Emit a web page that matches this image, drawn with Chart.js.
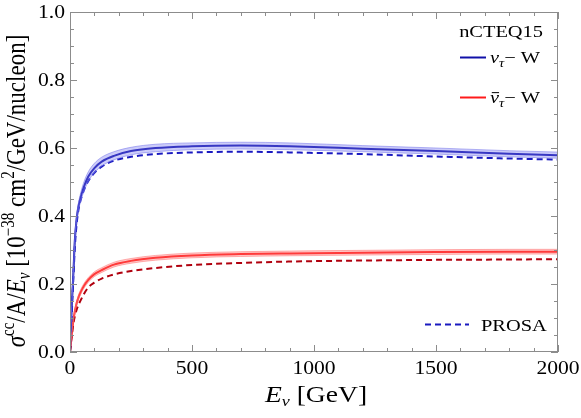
<!DOCTYPE html>
<html>
<head>
<meta charset="utf-8">
<script src="https://cdn.jsdelivr.net/npm/chart.js@4/dist/chart.umd.min.js"></script>
<style>
  html, body { margin: 0; padding: 0; background: #fff; }
  #wrap { width: 581px; height: 418px; }
</style>
</head>
<body>
<div id="wrap"><canvas id="xsecChart" width="581" height="418"></canvas></div>
<script>
// neutrino energy grid [GeV]
const energies = [0, 7, 14, 20, 27, 34, 41, 55, 75, 100, 130, 180, 250, 350, 500, 700, 900, 1200, 1500, 1800, 2000];

// nCTEQ15, nu_tau - W (central + band)
const nuCentral = [0, 0.13, 0.235, 0.33, 0.39, 0.425, 0.448, 0.482, 0.516, 0.541, 0.56, 0.577, 0.591, 0.600, 0.605, 0.607, 0.605, 0.598, 0.591, 0.583, 0.579];
const nuHigh    = [0, 0.135, 0.243, 0.34, 0.40, 0.436, 0.46, 0.496, 0.53, 0.555, 0.573, 0.589, 0.602, 0.611, 0.615, 0.617, 0.615, 0.607, 0.600, 0.592, 0.588];
const nuLow     = [0, 0.125, 0.227, 0.32, 0.38, 0.414, 0.436, 0.468, 0.502, 0.527, 0.547, 0.565, 0.580, 0.589, 0.595, 0.597, 0.595, 0.589, 0.582, 0.574, 0.570];

// nCTEQ15, anti-nu_tau - W (central + band)
const nubarCentral = [0, 0.05, 0.094, 0.12, 0.143, 0.159, 0.172, 0.192, 0.212, 0.229, 0.241, 0.257, 0.268, 0.277, 0.284, 0.288, 0.290, 0.292, 0.294, 0.295, 0.295];
const nubarHigh    = [0, 0.053, 0.099, 0.126, 0.149, 0.166, 0.179, 0.199, 0.219, 0.236, 0.248, 0.264, 0.275, 0.284, 0.291, 0.295, 0.297, 0.299, 0.301, 0.302, 0.302];
const nubarLow     = [0, 0.047, 0.089, 0.114, 0.137, 0.152, 0.165, 0.185, 0.205, 0.222, 0.234, 0.250, 0.261, 0.270, 0.277, 0.281, 0.283, 0.285, 0.287, 0.288, 0.288];

// PROSA
const nuProsa    = [0, 0.11, 0.22, 0.31, 0.375, 0.415, 0.44, 0.472, 0.503, 0.527, 0.545, 0.563, 0.574, 0.582, 0.587, 0.589, 0.587, 0.582, 0.575, 0.569, 0.566];
const nubarProsa = [0, 0.045, 0.085, 0.105, 0.124, 0.137, 0.148, 0.168, 0.19, 0.204, 0.216, 0.228, 0.238, 0.247, 0.256, 0.262, 0.266, 0.269, 0.271, 0.272, 0.273];

const xMajor = [0, 500, 1000, 1500, 2000];
const yMajor = [0.0, 0.2, 0.4, 0.6, 0.8, 1.0];

const SERIF = '"Liberation Serif", "DejaVu Serif", serif';
const FRAME = '#8c8c8c';
const STRETCH = 1.2;   // the text in the picture is a bit wider than tall

function pts(ys) {
    return energies.map((e, i) => ({ x: e, y: ys[i] }));
}

// draw a row of text pieces with their own size/style/offset, stretched sideways
function drawRuns(ctx, runs, x, y, align, sx) {
    sx = sx || STRETCH;
    let total = 0;
    runs.forEach(r => {
        ctx.font = (r.italic ? 'italic ' : '') + r.size + 'px ' + SERIF;
        r.w = ctx.measureText(r.t).width;
        total += r.w;
    });
    ctx.save();
    ctx.translate(x, y);
    ctx.scale(sx, 1);
    let cx = align === 'center' ? -total / 2 : (align === 'right' ? -total : 0);
    ctx.textAlign = 'left';
    runs.forEach(r => {
        ctx.font = (r.italic ? 'italic ' : '') + r.size + 'px ' + SERIF;
        ctx.fillText(r.t, cx, r.dy || 0);
        if (r.bar) {
            ctx.fillRect(cx + 1.5, -r.size * 0.64, r.w - 1.5, 1);
        }
        cx += r.w;
    });
    ctx.restore();
}

const framePlugin = {
    id: 'frameTicks',
    afterDatasetsDraw(chart) {
        const ctx = chart.ctx;
        const a = chart.chartArea;
        const xs = chart.scales.x, ys = chart.scales.y;
        ctx.save();
        ctx.strokeStyle = FRAME;
        ctx.lineWidth = 1;
        ctx.strokeRect(a.left + 0.5, a.top + 0.5, a.right - a.left - 1, a.bottom - a.top - 1);
        ctx.beginPath();
        xs.ticks.forEach(t => {
            const p = Math.round(xs.getPixelForValue(t.value)) + 0.5;
            const len = xMajor.includes(t.value) ? 7 : 4;
            ctx.moveTo(p, a.bottom); ctx.lineTo(p, a.bottom - len);
            ctx.moveTo(p, a.top); ctx.lineTo(p, a.top + len);
        });
        ys.ticks.forEach(t => {
            const p = Math.round(ys.getPixelForValue(t.value)) + 0.5;
            const major = yMajor.some(v => Math.abs(v - t.value) < 1e-6);
            const len = major ? 7 : 4;
            ctx.moveTo(a.left, p); ctx.lineTo(a.left + len, p);
            ctx.moveTo(a.right, p); ctx.lineTo(a.right - len, p);
        });
        ctx.stroke();
        ctx.restore();
    },
    afterDraw(chart) {
        const ctx = chart.ctx;
        const a = chart.chartArea;
        const xs = chart.scales.x, ys = chart.scales.y;
        ctx.save();
        ctx.fillStyle = '#000';
        ctx.textBaseline = 'alphabetic';

        // tick labels
        xMajor.forEach(v => {
            drawRuns(ctx, [{ t: String(v), size: 18 }], xs.getPixelForValue(v), a.bottom + 22, 'center');
        });
        yMajor.forEach(v => {
            drawRuns(ctx, [{ t: v.toFixed(1), size: 18 }], a.left - 5, ys.getPixelForValue(v) + 6, 'right');
        });

        // x title
        drawRuns(ctx, [
            { t: 'E', size: 23, italic: true },
            { t: 'ν', size: 15, italic: true, dy: 4 },
            { t: ' [GeV]', size: 23 }
        ], (a.left + a.right) / 2 + 2, 402, 'center');

        // y title
        ctx.save();
        ctx.translate(25, 191);
        ctx.rotate(-Math.PI / 2);
        ctx.scale(1, STRETCH);
        drawRuns(ctx, [
            { t: 'σ', size: 23, italic: true },
            { t: 'cc', size: 15, dy: -9 },
            { t: '/A/', size: 23 },
            { t: 'E', size: 23, italic: true },
            { t: 'ν', size: 15, italic: true, dy: 4 },
            { t: ' [10', size: 23 },
            { t: '−38', size: 15, dy: -9 },
            { t: ' cm', size: 23 },
            { t: '2', size: 15, dy: -9 },
            { t: '/GeV/nucleon]', size: 23 }
        ], 0, 0, 'center', 1);
        ctx.restore();

        // legend
        drawRuns(ctx, [{ t: 'nCTEQ15', size: 17 }], 543, 37, 'right');

        ctx.lineWidth = 2;
        ctx.strokeStyle = '#1010a8';
        ctx.beginPath(); ctx.moveTo(460, 57.5); ctx.lineTo(486, 57.5); ctx.stroke();
        drawRuns(ctx, [
            { t: 'ν', size: 17, italic: true },
            { t: 'τ', size: 12, italic: true, dy: 4 },
            { t: '− W', size: 17 }
        ], 490, 63, 'left');

        ctx.strokeStyle = '#ff1a1a';
        ctx.beginPath(); ctx.moveTo(460, 97.5); ctx.lineTo(486, 97.5); ctx.stroke();
        drawRuns(ctx, [
            { t: 'ν', size: 17, italic: true, bar: true },
            { t: 'τ', size: 12, italic: true, dy: 4 },
            { t: '− W', size: 17 }
        ], 490, 103, 'left');

        ctx.strokeStyle = '#1a1ac0';
        ctx.setLineDash([6, 4]);
        ctx.beginPath(); ctx.moveTo(425, 324.5); ctx.lineTo(469, 324.5); ctx.stroke();
        ctx.setLineDash([]);
        drawRuns(ctx, [{ t: 'PROSA', size: 17 }], 481, 331, 'left');
        ctx.restore();
    }
};

const bandStyle = (fillCol, edgeCol, fill) => ({
    fill: fill,
    backgroundColor: fillCol,
    borderColor: edgeCol,
    borderWidth: 1,
    pointRadius: 0,
    cubicInterpolationMode: 'monotone'
});

const ctx = document.getElementById('xsecChart').getContext('2d');
new Chart(ctx, {
    type: 'line',
    data: {
        datasets: [
            Object.assign({ label: 'nuHigh', data: pts(nuHigh) }, bandStyle('rgba(120,120,240,0.38)', 'rgba(120,120,235,0.55)', '+1')),
            Object.assign({ label: 'nuLow', data: pts(nuLow) }, bandStyle('rgba(0,0,0,0)', 'rgba(120,120,235,0.55)', false)),
            Object.assign({ label: 'nubarHigh', data: pts(nubarHigh) }, bandStyle('rgba(255,110,110,0.38)', 'rgba(255,120,120,0.55)', '+1')),
            Object.assign({ label: 'nubarLow', data: pts(nubarLow) }, bandStyle('rgba(0,0,0,0)', 'rgba(255,120,120,0.55)', false)),
            {
                label: 'PROSA nu', data: pts(nuProsa),
                borderColor: '#1a1ac0', borderWidth: 2, borderDash: [6, 4],
                pointRadius: 0, fill: false, cubicInterpolationMode: 'monotone'
            },
            {
                label: 'PROSA nubar', data: pts(nubarProsa),
                borderColor: '#b0000e', borderWidth: 2, borderDash: [6, 4],
                pointRadius: 0, fill: false, cubicInterpolationMode: 'monotone'
            },
            {
                label: 'nu_tau - W', data: pts(nuCentral),
                borderColor: '#1010a8', borderWidth: 2,
                pointRadius: 0, fill: false, cubicInterpolationMode: 'monotone'
            },
            {
                label: 'nubar_tau - W', data: pts(nubarCentral),
                borderColor: '#ff1a1a', borderWidth: 2,
                pointRadius: 0, fill: false, cubicInterpolationMode: 'monotone'
            }
        ]
    },
    options: {
        responsive: false,
        animation: false,
        layout: {
            padding: { top: 12, right: 23, left: 0, bottom: 0 }
        },
        plugins: {
            legend: { display: false },
            tooltip: { enabled: false }
        },
        scales: {
            x: {
                type: 'linear',
                min: 0,
                max: 2000,
                afterFit: s => { s.height = 66; },
                grid: { display: false, drawTicks: false },
                border: { display: false },
                ticks: { stepSize: 100, autoSkip: false, display: false }
            },
            y: {
                min: 0,
                max: 1,
                afterFit: s => { s.width = 70; },
                grid: { display: false, drawTicks: false },
                border: { display: false },
                ticks: { stepSize: 0.05, autoSkip: false, display: false }
            }
        }
    },
    plugins: [framePlugin]
});
</script>
</body>
</html>
